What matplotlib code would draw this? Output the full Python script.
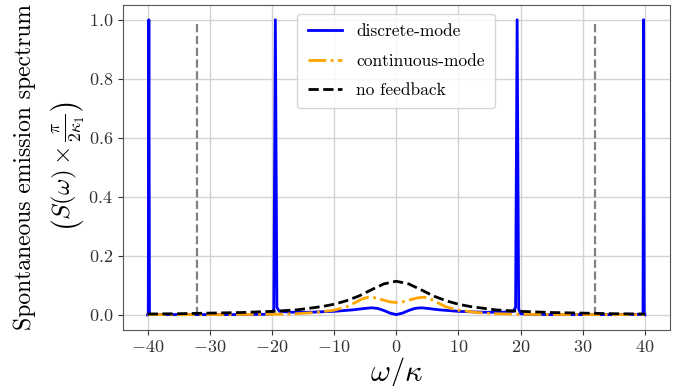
import numpy as np
import matplotlib
matplotlib.use("Agg")
import matplotlib.pyplot as plt

plt.rcParams['font.family'] = ['cmr10', 'DejaVu Serif']
plt.rcParams['mathtext.fontset'] = 'cm'
plt.rcParams['axes.formatter.use_mathtext'] = True

# discrete-mode (blue): sharp peaks at about +-19.4 and +-39.8
x_disc = [-40.0, -39.9, -39.8, -39.7, -35.0, -30.0, -25.0, -21.0, -20.0, -19.7, -19.45, -19.2,
          -18.8, -17.0, -14.0, -10.0, -7.0, -5.0, -4.0, -3.0, -2.0, -1.0, 0.0,
          1.0, 2.0, 3.0, 4.0, 5.0, 7.0, 10.0, 14.0, 17.0, 18.8, 19.2, 19.45, 19.7,
          20.0, 21.0, 25.0, 30.0, 35.0, 39.7, 39.8, 39.9, 40.0]
y_disc = [0.0, 0.0, 1.0, 0.002, 0.001, 0.001, 0.001, 0.002, 0.004, 0.02, 1.0, 0.025,
          0.012, 0.009, 0.009, 0.012, 0.017, 0.022, 0.024, 0.022, 0.015, 0.006, 0.001,
          0.006, 0.015, 0.022, 0.024, 0.022, 0.017, 0.012, 0.009, 0.009, 0.012, 0.025, 1.0, 0.02,
          0.004, 0.002, 0.001, 0.001, 0.001, 0.002, 1.0, 0.0, 0.0]

# continuous-mode (orange)
x_cont = [-40, -30, -20, -16, -13, -10, -8, -6.5, -5.5, -4.5, -3.5, -2, -1, 0,
          1, 2, 3.5, 4.5, 5.5, 6.5, 8, 10, 13, 16, 20, 30, 40]
y_cont = [0.001, 0.001, 0.002, 0.004, 0.008, 0.016, 0.027, 0.043, 0.054, 0.060, 0.058, 0.050, 0.044, 0.042,
          0.044, 0.050, 0.058, 0.060, 0.054, 0.043, 0.027, 0.016, 0.008, 0.004, 0.002, 0.001, 0.001]

# no feedback (black)
x_nofb = [-40, -35, -30, -25, -20, -16, -12, -10, -8, -6, -4, -2, 0,
          2, 4, 6, 8, 10, 12, 16, 20, 25, 30, 35, 40]
y_nofb = [0.003, 0.004, 0.006, 0.008, 0.012, 0.017, 0.028, 0.036, 0.048, 0.064, 0.085, 0.105, 0.114,
          0.105, 0.085, 0.064, 0.048, 0.036, 0.028, 0.017, 0.012, 0.008, 0.006, 0.004, 0.003]

# gray markers
x_marks = [-32, 32]

fig, ax = plt.subplots(figsize=(6.82, 3.86), dpi=100)
fig.subplots_adjust(left=0.18, right=0.982, top=0.987, bottom=0.146)

for xm in x_marks:
    ax.plot([xm, xm], [0, 0.99], color='gray', ls='--', lw=1.6)

ax.plot(x_disc, y_disc, color='blue', lw=2, label='discrete-mode')
ax.plot(x_cont, y_cont, color='orange', ls='-.', lw=2, label='continuous-mode')
ax.plot(x_nofb, y_nofb, color='k', ls='--', lw=2, label='no feedback')

ax.grid(True, color='#d3d3d3', lw=1)
ax.set_axisbelow(True)
ax.set_xticks([-40, -30, -20, -10, 0, 10, 20, 30, 40])
ax.set_yticks([0.0, 0.2, 0.4, 0.6, 0.8, 1.0])
ax.tick_params(labelsize=13, colors='#333333')
for sp in ax.spines.values():
    sp.set_color('#555555')

ax.set_xlabel(r'$\omega/\kappa$', fontsize=22, labelpad=0)

# y label in two lines
ymid = 1 - 167 / 386
fig.text(25 / 682, ymid, 'Spontaneous emission spectrum', rotation=90,
         fontsize=17, ha='center', va='center')
fig.text(67 / 682, ymid, r'$\left(S(\omega)\times\frac{\pi}{2\kappa_1}\right)$', rotation=90,
         fontsize=18, ha='center', va='center')

ax.legend(loc='upper center', fontsize=12.5, labelspacing=0.8, borderpad=0.6)

fig.savefig('out.png', dpi=100)
